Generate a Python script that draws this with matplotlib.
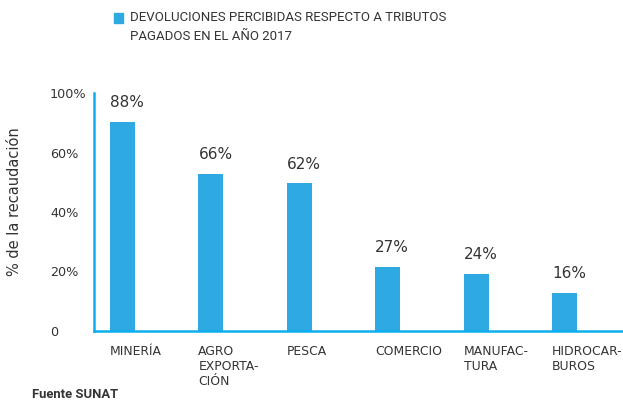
import numpy as np
import matplotlib
matplotlib.use('Agg')
import matplotlib.pyplot as plt

# datos
sectores = ['MINERÍA', 'AGRO\nEXPORTA-\nCIÓN', 'PESCA', 'COMERCIO', 'MANUFAC-\nTURA', 'HIDROCAR-\nBUROS']
devoluciones = [88, 66, 62, 27, 24, 16]
tick_pos = [0, 25, 50, 75, 100]
tick_lbl = ['0', '20%', '40%', '60%', '100%']

azul_barra = '#2EA9E1'
azul_eje = '#0DAEEF'
gris = '#333333'

fig = plt.figure(figsize=(6.23, 4.01), dpi=100)
ax = fig.add_axes([94/623, 1-331/401, 1-94/623, (331-93)/401])

x = np.arange(len(sectores))
w = 0.283
ax.bar(x, devoluciones, width=w, color=azul_barra, zorder=2)

for i, v in enumerate(devoluciones):
    ax.text(i - w/2, v + 5, f'{v}%', ha='left', va='bottom', fontsize=11, color=gris)
    ax.text(i - w/2, -5.8, sectores[i], ha='left', va='top', fontsize=8.9,
            color=gris, linespacing=1.2, clip_on=False)

ax.set_xlim(-0.322, 5.66)
ax.set_ylim(0, 100)
ax.set_xticks([])
ax.set_yticks(tick_pos)
ax.set_yticklabels(tick_lbl, fontsize=9.2, color=gris)
for lbl in ax.get_yticklabels():
    lbl.set_horizontalalignment('left')
ax.tick_params(axis='y', length=0, pad=31.7)

for s in ['top', 'right']:
    ax.spines[s].set_visible(False)
for s in ['left', 'bottom']:
    ax.spines[s].set_color(azul_eje)
    ax.spines[s].set_linewidth(1.8)

ax.set_ylabel('% de la recaudación', fontsize=10.5, color=gris, va='center')
ax.yaxis.set_label_coords((15 - 94) / 529, (331 - 202) / 238)

# leyenda
fig.patches.append(plt.Rectangle((114/623, 1-23/401), 9/623, 10/401, transform=fig.transFigure,
                                 color=azul_barra))
fig.text(130/623, 1-27/401, 'DEVOLUCIONES PERCIBIDAS RESPECTO A TRIBUTOS\nPAGADOS EN EL AÑO 2017',
         ha='left', va='center', fontsize=9.5, color=gris, linespacing=1.55, family='Roboto')
fig.text(32/623, 1-394/401, 'Fuente SUNAT', ha='left', va='center', fontsize=9.4,
         fontweight='bold', color=gris, family='Roboto')

fig.savefig('out.png', dpi=100)
